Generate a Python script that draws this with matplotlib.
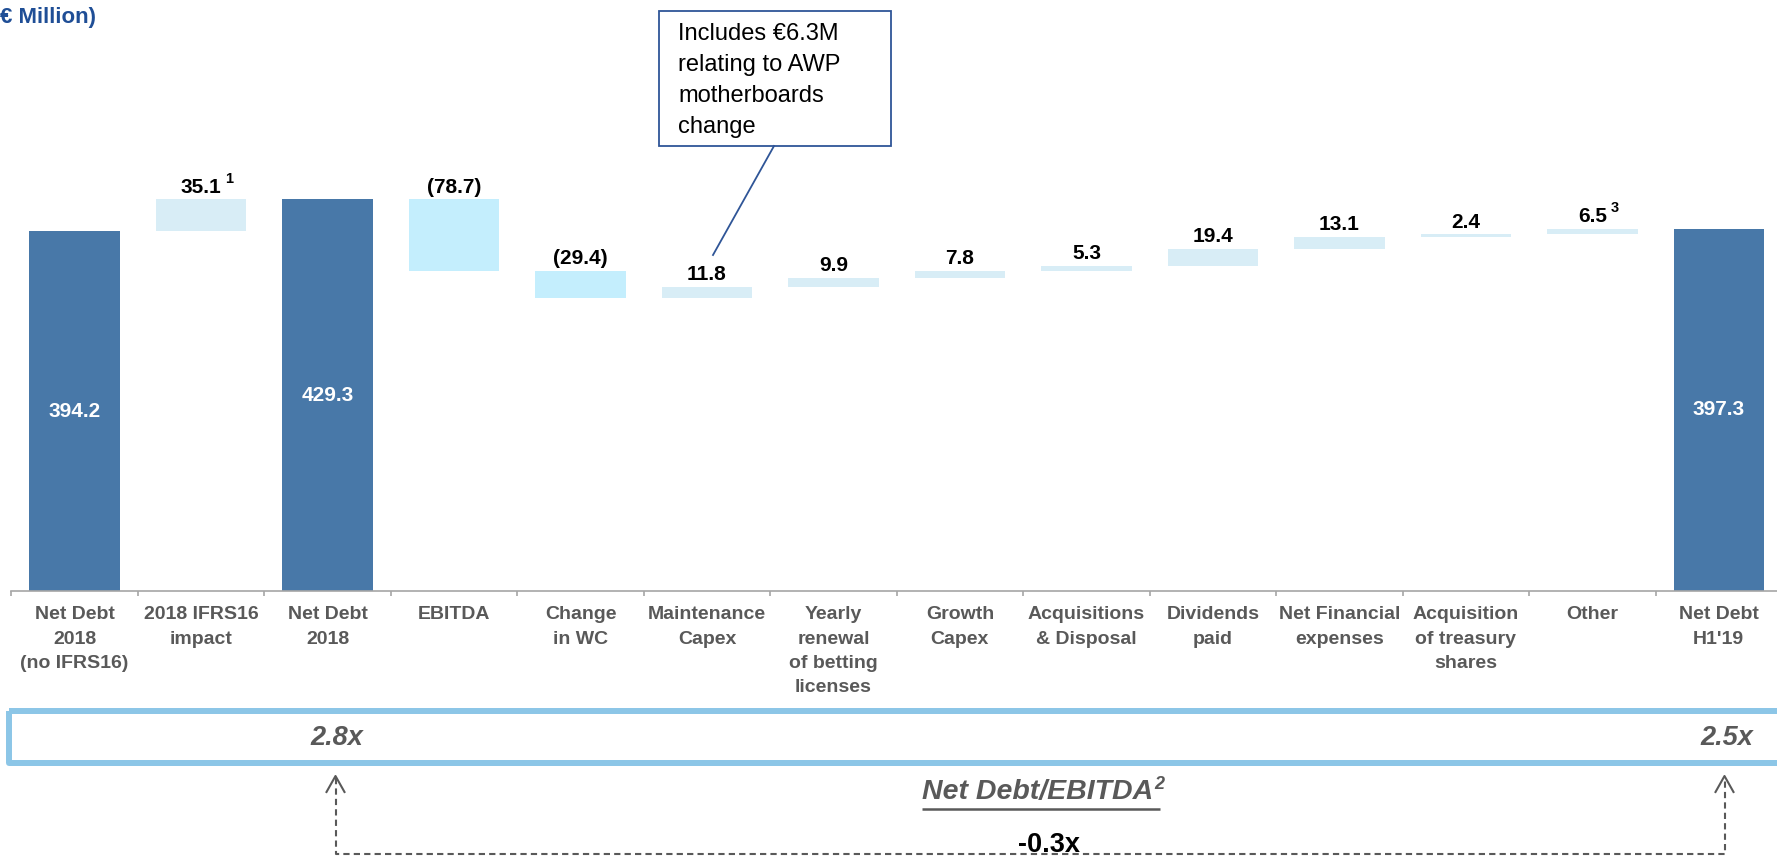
import numpy as np
import matplotlib
matplotlib.use('Agg')
import matplotlib.pyplot as plt
from matplotlib import font_manager
from matplotlib.patches import Rectangle

# ---- data ----
categories = ['Net Debt\n2018\n(no IFRS16)', '2018 IFRS16\nimpact', 'Net Debt\n2018', 'EBITDA',
              'Change\nin WC', 'Maintenance\nCapex', 'Yearly\nrenewal\nof betting\nlicenses',
              'Growth\nCapex', 'Acquisitions\n& Disposal', 'Dividends\npaid',
              'Net Financial\nexpenses', 'Acquisition\nof treasury\nshares', 'Other',
              "Net Debt\nH1'19"]
values = [394.2, 35.1, 429.3, -78.7, -29.4, 11.8, 9.9, 7.8, 5.3, 19.4, 13.1, 2.4, 6.5, 397.3]
is_total = [True, False, True, False, False, False, False, False, False, False, False, False,
            False, True]
value_labels = ['394.2', '35.1', '429.3', '(78.7)', '(29.4)', '11.8', '9.9', '7.8', '5.3',
                '19.4', '13.1', '2.4', '6.5', '397.3']
footnotes = {1: '1', 12: '3'}
ratio_start = '2.8x'
ratio_end = '2.5x'
ratio_change = '-0.3x'
callout = 'Includes €6.3M\nrelating to AWP\nmotherboards\nchange'

# ---- style ----
TOTAL_C = '#4878A8'
UP_C = '#D8EDF6'
DOWN_C = '#C4EEFD'
GREY = '#595959'
AXIS_C = '#A6A6A6'
BOX_C = '#8CC6E7'
NAVY = '#1F4E96'

plt.rcParams['font.family'] = ['Liberation Sans', 'DejaVu Sans']
names = {f.name for f in font_manager.fontManager.ttflist}
if 'Liberation Sans Narrow' in names:
    cat_family, cat_size = ['Liberation Sans Narrow', 'Liberation Sans'], 16.5
else:
    cat_family, cat_size = ['Liberation Sans', 'DejaVu Sans'], 14

W, H = 1777, 858
base_y = 591.0       # pixel row of the category axis
px_unit = 0.912      # pixels per EUR million

fig = plt.figure(figsize=(W / 100, H / 100), dpi=100)
ax = fig.add_axes([11.4 / W, (H - base_y) / H, (1782 - 11.4) / W, base_y / H])
ax.set_facecolor('none')

# waterfall geometry
bottoms, heights, colors = [], [], []
level = 0.0
for v, tot in zip(values, is_total):
    if tot:
        bottoms.append(0)
        heights.append(v)
        colors.append(TOTAL_C)
        level = v
    else:
        if v >= 0:
            bottoms.append(level)
            heights.append(v)
            colors.append(UP_C)
        else:
            bottoms.append(level + v)
            heights.append(-v)
            colors.append(DOWN_C)
        level += v

x = np.arange(len(categories))
ax.bar(x, heights, bottom=bottoms, width=0.715, color=colors, linewidth=0)

for i, (b, h, lab, tot) in enumerate(zip(bottoms, heights, value_labels, is_total)):
    if tot:
        ax.text(i, b + h / 2, lab, ha='center', va='center', color='white',
                fontsize=15, fontweight='bold')
    else:
        ax.annotate(lab, (i, b + h), xytext=(0, 5), textcoords='offset points',
                    ha='center', va='baseline', fontsize=15, fontweight='bold', color='black')
        if i in footnotes:
            half_w = sum(0.278 if c == '.' else 0.556 for c in lab) * 15 / 2
            ax.annotate(footnotes[i], (i, b + h), xytext=(half_w + 3, 12),
                        textcoords='offset points', ha='left', va='baseline',
                        fontsize=10.5, fontweight='bold', color='black')

ax.set_xlim(-0.5, len(categories) - 0.5)
ax.set_ylim(0, base_y / px_unit)
for s in ['left', 'right', 'top']:
    ax.spines[s].set_visible(False)
ax.spines['bottom'].set_color(AXIS_C)
ax.spines['bottom'].set_linewidth(1.2)
ax.set_yticks([])
ax.set_xticks(x)
ax.set_xticklabels(categories, family=cat_family, fontsize=cat_size, fontweight='bold',
                   color=GREY, linespacing=1.56)
ax.set_xticks(np.arange(-0.5, len(categories), 1), minor=True)
ax.tick_params(axis='x', which='major', length=0, pad=11)
ax.tick_params(axis='x', which='minor', length=3.5, width=1.2, color=AXIS_C, direction='out')

# ---- overlay in pixel coordinates ----
ov = fig.add_axes([0, 0, 1, 1], zorder=5)
ov.set_xlim(0, W)
ov.set_ylim(H, 0)
ov.axis('off')

ov.text(0, 17, '€ Million)', ha='left', va='center', fontsize=16, fontweight='bold', color=NAVY)

# callout box
ov.add_patch(Rectangle((659, 11), 232, 135, fill=False, edgecolor='#2F5597', linewidth=1.3))
ov.text(678, 23, callout, ha='left', va='top', fontsize=17, color='black', linespacing=1.52)
ov.plot([774, 713], [146, 255], color='#2F5597', linewidth=1.3)

# ratio box
ov.add_patch(Rectangle((8.7, 711), 1800, 52, fill=False, edgecolor=BOX_C, linewidth=4.3,
                       joinstyle='round'))
ov.text(337, 738, ratio_start, ha='center', va='center', fontsize=19.5, fontweight='bold',
        style='italic', color=GREY)
ov.text(1727, 738, ratio_end, ha='center', va='center', fontsize=19.5, fontweight='bold',
        style='italic', color=GREY)

# Net Debt/EBITDA caption with underline + superscript
t = ov.text(1038, 799, 'Net Debt/EBITDA', ha='center', va='baseline', fontsize=20.5,
            fontweight='bold', style='italic', color=GREY)
fig.canvas.draw()
bb = t.get_window_extent().transformed(ov.transData.inverted())
x0, x1 = min(bb.x0, bb.x1), max(bb.x0, bb.x1)
ov.text(x1 + 1, 789, '2', ha='left', va='baseline', fontsize=13, fontweight='bold',
        style='italic', color=GREY)
ov.plot([x0, x1 + 6], [809, 809], color=GREY, linewidth=1.8, solid_capstyle='butt')

ov.text(1049, 845, ratio_change, ha='center', va='center', fontsize=19.5, fontweight='bold',
        color='black')

# dashed connector with open arrowheads
xl, xr, ybot, ytip = 335.5, 1724.5, 854, 776
ov.plot([xl, xl, xr, xr], [ytip + 2, ybot, ybot, ytip + 2], color=GREY, linewidth=1.5,
        linestyle=(0, (3, 2)))
for xa in (xl, xr):
    ov.plot([xa - 9, xa, xa + 9], [ytip + 16, ytip, ytip + 16], color=GREY, linewidth=1.5)

fig.savefig('out.png', dpi=100)
